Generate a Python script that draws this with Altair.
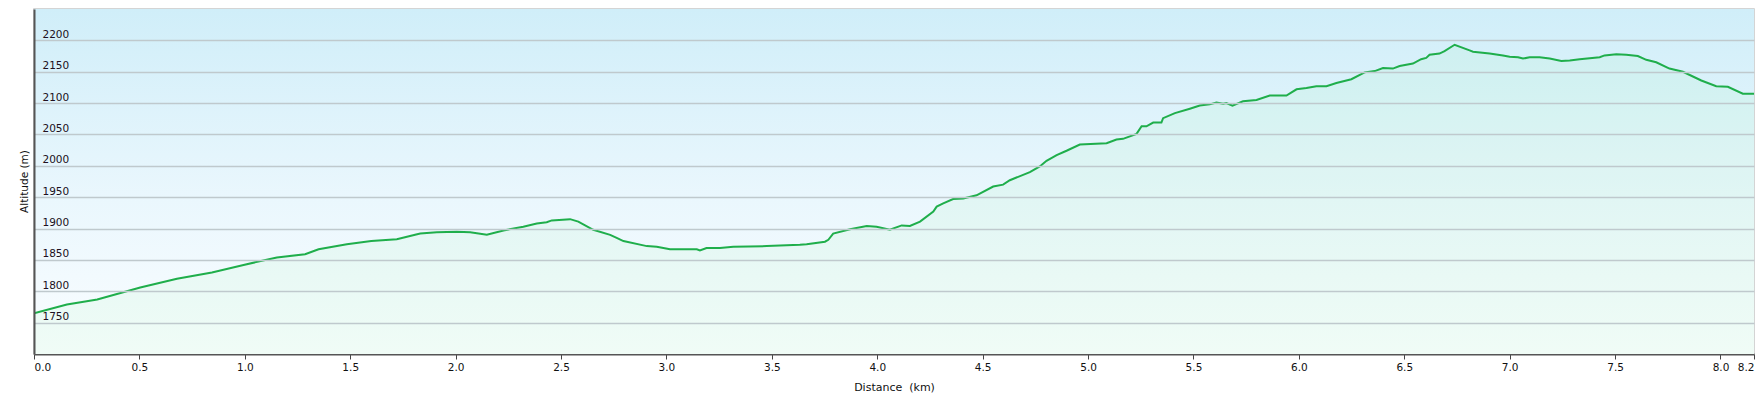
import altair as alt
import pandas as pd

distance_km = [0.0, 0.156, 0.25, 0.30, 0.504, 0.678, 0.844, 0.994, 1.152, 1.286, 1.35, 1.484,
               1.60, 1.721, 1.832, 1.911, 2.006, 2.069, 2.148, 2.227, 2.321, 2.385, 2.432, 2.456,
               2.543, 2.582, 2.653, 2.733, 2.764, 2.796, 2.907, 2.954, 3.017, 3.144, 3.159, 3.19,
               3.254, 3.317, 3.476, 3.633, 3.665, 3.752, 3.768, 3.791, 3.871, 3.95, 3.997, 4.06,
               4.116, 4.155, 4.203, 4.266, 4.282, 4.313, 4.36, 4.408, 4.471, 4.55, 4.597, 4.629,
               4.724, 4.771, 4.803, 4.851, 4.898, 4.961, 5.088, 5.135, 5.166, 5.23, 5.254, 5.277,
               5.309, 5.348, 5.356, 5.412, 5.483, 5.53, 5.577, 5.609, 5.641, 5.656, 5.685, 5.735,
               5.799, 5.862, 5.941, 5.989, 6.036, 6.083, 6.131, 6.178, 6.249, 6.312, 6.36, 6.399,
               6.446, 6.478, 6.541, 6.58, 6.604, 6.62, 6.667, 6.691, 6.739, 6.81, 6.826, 6.905,
               6.968, 7.0, 7.04, 7.063, 7.095, 7.142, 7.19, 7.245, 7.285, 7.332, 7.427, 7.45,
               7.506, 7.553, 7.608, 7.648, 7.695, 7.758, 7.822, 7.909, 7.98, 8.035, 8.106, 8.159]
altitude_m = [1765, 1779, 1784, 1787, 1806, 1820, 1830, 1842, 1854, 1859, 1867, 1875,
              1880, 1883, 1892, 1894, 1895, 1894, 1890, 1897, 1903, 1908, 1910, 1913,
              1915, 1911, 1898, 1890, 1885, 1880, 1872, 1871, 1867, 1867, 1865, 1869,
              1869, 1871, 1872, 1874, 1875, 1879, 1882, 1892, 1899, 1904, 1903, 1898,
              1905, 1904, 1911, 1927, 1935, 1940, 1947, 1948, 1953, 1967, 1970, 1977,
              1990, 1999, 2008, 2017, 2024, 2034, 2036, 2042, 2043, 2051, 2063, 2063,
              2069, 2069, 2076, 2084, 2091, 2096, 2098, 2101, 2099, 2100, 2096, 2103,
              2105, 2112, 2112, 2122, 2124, 2127, 2127, 2132, 2138, 2149, 2151, 2156,
              2155, 2159, 2163, 2170, 2172, 2177, 2179, 2183, 2193, 2184, 2182, 2179,
              2176, 2174, 2173, 2171, 2173, 2173, 2171, 2167, 2168, 2170, 2173, 2176,
              2178, 2177, 2175, 2169, 2165, 2155, 2150, 2136, 2127, 2126, 2115, 2115]

x_ticks = [0.0, 0.5, 1.0, 1.5, 2.0, 2.5, 3.0, 3.5, 4.0, 4.5, 5.0, 5.5, 6.0, 6.5, 7.0, 7.5, 8.0, 8.159]
y_ticks = [1750, 1800, 1850, 1900, 1950, 2000, 2050, 2100, 2150, 2200]
x_domain = [0, 8.159]
y_domain = [1700, 2250]

df = pd.DataFrame({"d": distance_km, "alt": altitude_m})

FONT = "DejaVu Sans"

x_enc = alt.X("d:Q", scale=alt.Scale(domain=x_domain, nice=False, zero=False),
              axis=alt.Axis(values=x_ticks, format=".1f", labelFlush=True, labelOverlap=False,
                            grid=False, tickSize=5, tickColor="#444", tickWidth=1,
                            domainColor="#555", domainWidth=2,
                            labelFont=FONT, labelFontSize=10.5, labelColor="#111", labelPadding=3,
                            title="Distance\u00a0 (km)", titleFont=FONT, titleFontSize=11,
                            titleFontWeight="normal", titleColor="#111",
                            titleY=33, titleBaseline="middle"))
y_enc = alt.Y("alt:Q", scale=alt.Scale(domain=y_domain, nice=False, zero=False),
              axis=alt.Axis(values=y_ticks, format="d", grid=True, gridColor="#bfc9cd", gridWidth=1.5,
                            ticks=False, tickSize=0, domainColor="#555", domainWidth=2,
                            labelAlign="left", labelPadding=-8, labelBaseline="alphabetic",
                            labelOffset=-3, labelFont=FONT, labelFontSize=10.5, labelColor="#201020",
                            title="Altitude (m)", titleFont=FONT, titleFontSize=10.5,
                            titleFontWeight="normal", titleColor="#111",
                            titleX=-10, titleY=172, titleAngle=270, titleBaseline="middle",
                            zindex=1))

bg = alt.Chart(pd.DataFrame({"k": [0]})).mark_rect(
    color=alt.LinearGradient(
        gradient="linear",
        stops=[alt.GradientStop(color="#d0eef9", offset=0),
               alt.GradientStop(color="#eaf7fd", offset=0.55),
               alt.GradientStop(color="#fafdff", offset=1)],
        x1=0, x2=0, y1=0, y2=1)
).encode(x=alt.value(0), x2=alt.value({"expr": "width"}),
         y=alt.value(0), y2=alt.value({"expr": "height"}))

area = alt.Chart(df).mark_area(color="#7ff08c", opacity=0.08, clip=True).encode(x=x_enc, y=y_enc)
line = alt.Chart(df).mark_line(color="#1fae4b", strokeWidth=2, clip=True).encode(x=x_enc, y=y_enc)

chart = alt.layer(bg, area, line).properties(
    width=1720, height=345,
    autosize=alt.AutoSizeParams(type="none"),
    padding={"left": 34, "top": 9, "right": 5, "bottom": 42},
    background="white",
).configure_view(stroke="#c6c6c6", strokeWidth=1.5)

chart.save("out.html", embed_options={"renderer": "svg", "actions": False})
